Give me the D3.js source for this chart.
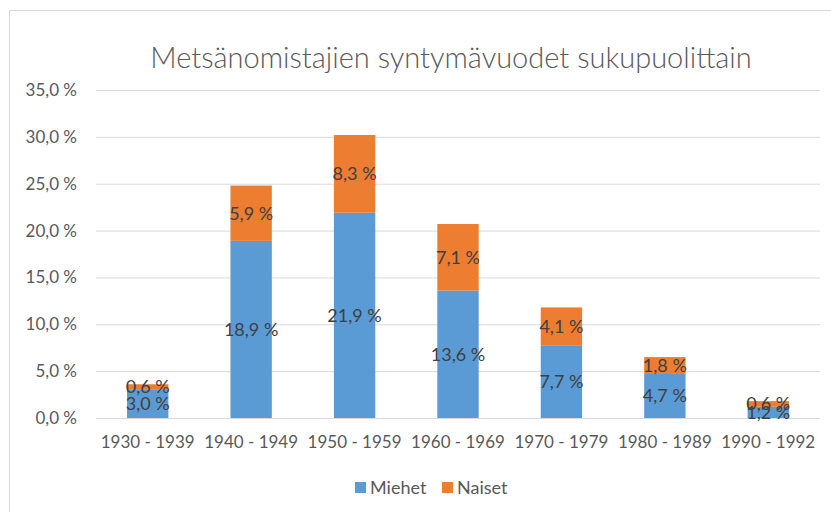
<!DOCTYPE html>
<html><head><meta charset="utf-8">
<script src="https://cdn.jsdelivr.net/npm/d3@7"></script>
<style>body{margin:0;background:#fff}svg{display:block}</style>
</head><body>
<svg id="c" width="831" height="512"></svg>
<script>
const categories = ["1930 - 1939","1940 - 1949","1950 - 1959","1960 - 1969","1970 - 1979","1980 - 1989","1990 - 1992"];
const miehet = [3.0, 18.9, 21.9, 13.6, 7.7, 4.7, 1.2];
const naiset = [0.6, 5.9, 8.3, 7.1, 4.1, 1.8, 0.6];
const seriesNames = ["Miehet","Naiset"];
const yTicks = [0,5,10,15,20,25,30,35];
const colors = ["#5B9BD5","#ED7D31"];
const title = "Metsänomistajien syntymävuodet sukupuolittain";

const font = "Lato, 'Open Sans', sans-serif";
const svg = d3.select("#c");
svg.append("rect").attr("x",9.5).attr("y",10.5).attr("width",900).attr("height",600)
  .attr("fill","#fff").attr("stroke","#D9D9D9");

const m = {l:96, r:820, t:90, b:418};
const x = d3.scaleBand().domain(categories).range([m.l,m.r]).paddingInner(0.6).paddingOuter(0.3);
const y = d3.scaleLinear().domain([0,35]).range([m.b,m.t]);
const fmt = v => d3.format(".1f")(v).replace(".",",") + " %";

// gridlines
svg.append("g").selectAll("line").data(yTicks).join("line")
  .attr("x1",m.l).attr("x2",m.r).attr("y1",d=>y(d)+0.5).attr("y2",d=>y(d)+0.5)
  .attr("stroke","#D9D9D9").attr("stroke-width",1);

// y axis labels
const yAxis = svg.append("g").attr("transform",`translate(${m.l},0)`)
  .call(d3.axisLeft(y).tickValues(yTicks).tickFormat(fmt).tickSize(0).tickPadding(19));
yAxis.select(".domain").remove();
yAxis.selectAll("text").attr("fill","#595959").style("font-family",font).style("font-size","17px");

// x axis labels
const xAxis = svg.append("g").attr("transform",`translate(0,${m.b})`)
  .call(d3.axisBottom(x).tickSize(0).tickPadding(18));
xAxis.select(".domain").remove();
xAxis.selectAll("text").attr("fill","#595959").style("font-family",font).style("font-size","17px");

const data = categories.map((c,i)=>({cat:c, Miehet:miehet[i], Naiset:naiset[i]}));
const stack = d3.stack().keys(seriesNames)(data);

const g = svg.append("g");
stack.forEach((s,si)=>{
  g.append("g").selectAll("rect").data(s).join("rect")
    .attr("x",d=>x(d.data.cat)).attr("width",x.bandwidth())
    .attr("y",d=>y(d[1])).attr("height",d=>y(d[0])-y(d[1]))
    .attr("fill",colors[si]);
});
stack.forEach((s,si)=>{
  g.append("g").selectAll("text").data(s).join("text")
    .attr("x",d=>x(d.data.cat)+x.bandwidth()/2)
    .attr("y",d=>(y(d[0])+y(d[1]))/2)
    .attr("dy","0.35em").attr("text-anchor","middle")
    .attr("fill","#404040").style("font-family",font).style("font-size","18px")
    .text(d=>fmt(d.data[s.key]));
});

// title
svg.append("text").attr("x",451).attr("y",68).attr("text-anchor","middle")
  .attr("fill","#595959").style("font-family",font).style("font-weight","300").style("font-size","29px")
  .text(title);

// legend
const leg = svg.append("g");
const legX = [355, 442];
seriesNames.forEach((n,i)=>{
  leg.append("rect").attr("x",legX[i]).attr("y",482).attr("width",11).attr("height",11).attr("fill",colors[i]);
  leg.append("text").attr("x",legX[i]+15).attr("y",487.5).attr("dy","0.35em")
    .attr("fill","#595959").style("font-family",font).style("font-size","18px").text(n);
});
</script>
</body></html>
